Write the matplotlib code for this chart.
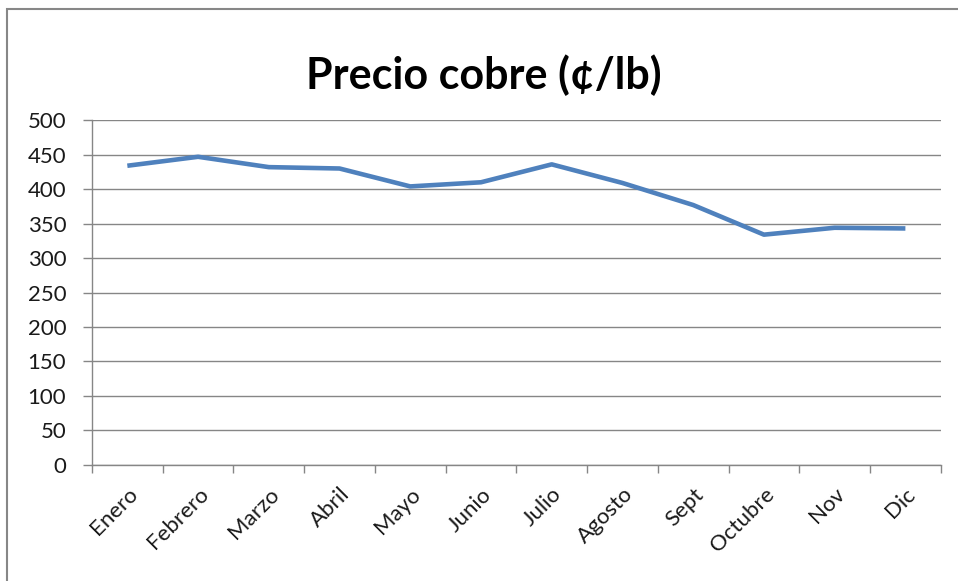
import matplotlib
matplotlib.use("Agg")
import matplotlib.pyplot as plt
from matplotlib.patches import Rectangle

months = ["Enero", "Febrero", "Marzo", "Abril", "Mayo", "Junio",
          "Julio", "Agosto", "Sept", "Octubre", "Nov", "Dic"]
precio = [434, 447, 432, 430, 404, 410, 436, 409, 377, 334, 344, 343]
yticks = [0, 50, 100, 150, 200, 250, 300, 350, 400, 450, 500]

GRID = "#868686"
plt.rcParams["font.family"] = ["Lato", "DejaVu Sans"]

fig = plt.figure(figsize=(9.58, 5.81), dpi=100)
ax = fig.add_axes([0.096, 0.200, 0.886, 0.593])

x = list(range(len(months)))
ax.plot(x, precio, color="#4F81BD", lw=3.3, solid_capstyle="butt", zorder=3)

ax.set_ylim(0, 500)
ax.set_xlim(-0.5, len(months) - 0.5)
ax.set_yticks(yticks)
ax.set_yticklabels([str(v) for v in yticks], fontsize=16, color="#1a1a1a")
ax.yaxis.grid(True, color=GRID, lw=1.0)
ax.set_axisbelow(True)

# category boundaries as major ticks, labels on the centres
ax.set_xticks([i - 0.5 for i in range(len(months) + 1)])
ax.set_xticklabels([])
ax.set_xticks(x, minor=True)
ax.set_xticklabels(months, minor=True, rotation=45, ha="right",
                   rotation_mode="anchor", fontsize=16, color="#1a1a1a")
ax.tick_params(axis="x", which="major", length=6, color=GRID, width=1)
ax.tick_params(axis="x", which="minor", length=0, pad=14)
ax.tick_params(axis="y", length=6.5, color=GRID, width=1, pad=12)

for s in ["top", "right"]:
    ax.spines[s].set_visible(False)
for s in ["left", "bottom"]:
    ax.spines[s].set_color(GRID)
    ax.spines[s].set_linewidth(1.0)

fig.text(0.505, 0.847, "Precio cobre (¢/lb)", ha="center", va="baseline",
         fontsize=31, fontweight="bold")

fig.patches.append(Rectangle((0.0073, -0.1), 1.1, 0.9845 + 0.1,
                             transform=fig.transFigure, fill=False,
                             edgecolor="#878787", lw=1.5))

fig.savefig("out.png", dpi=100)
